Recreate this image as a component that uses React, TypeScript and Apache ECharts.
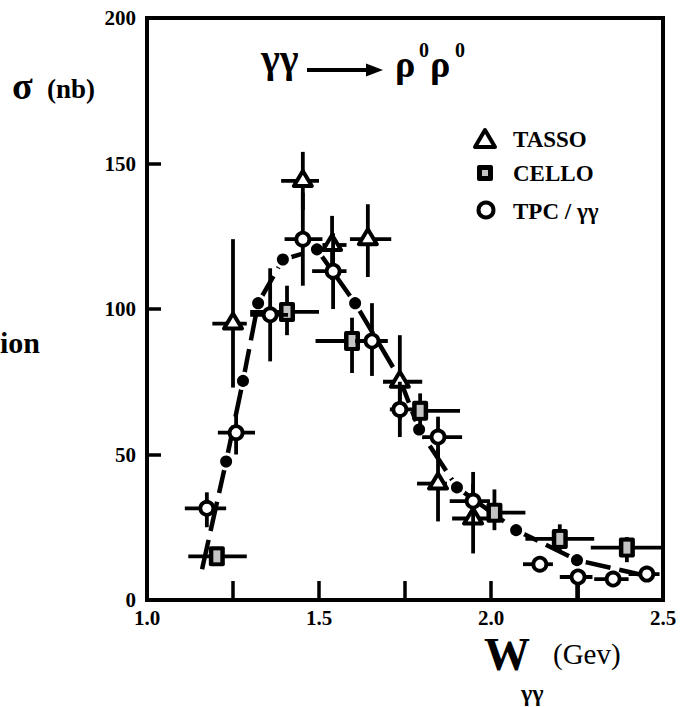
import React, { useEffect, useRef } from 'react';
import * as echarts from 'echarts';

// TASSO (open triangles)
const tassoW = [1.25, 1.453, 1.538, 1.642, 1.735, 1.846, 1.948];
const tassoSigma = [95, 144, 122, 124, 75, 40, 28];
const tassoWLo = [1.19, 1.39, 1.51, 1.59, 1.686, 1.785, 1.887];
const tassoWHi = [1.29, 1.5, 1.58, 1.71, 1.8, 1.872, 1.99];
const tassoSigmaLo = [73, 134, 110, 111, 62, 27, 16];
const tassoSigmaHi = [124, 154, 132, 136, 91, 52, 40];

// CELLO (shaded squares)
const celloW = [1.203, 1.407, 1.596, 1.794, 2.01, 2.2, 2.395];
const celloSigma = [15, 99, 89, 65, 30, 21, 18];
const celloWLo = [1.12, 1.3, 1.49, 1.773, 1.99, 2.1, 2.29];
const celloWHi = [1.29, 1.5, 1.7, 1.91, 2.1, 2.3, 2.5];
const celloSigmaLo = [13, 91, 78, 58, 24, 16.4, 13];
const celloSigmaHi = [17, 108, 97, 71, 38, 26, 21.6];

// TPC / gamma gamma (open circles)
const tpcW = [1.174, 1.259, 1.358, 1.453, 1.541, 1.654, 1.735, 1.846, 1.948, 2.142, 2.253, 2.355, 2.453];
const tpcSigma = [31.5, 57.5, 98, 124, 113, 89, 65.5, 56, 34, 12.3, 7.9, 7.2, 8.9];
const tpcWLo = [1.11, 1.206, 1.3, 1.4, 1.48, 1.605, 1.706, 1.8, 1.88, 2.093, 2.2, 2.3, 2.4];
const tpcWHi = [1.23, 1.314, 1.41, 1.51, 1.58, 1.698, 1.773, 1.916, 1.997, 2.18, 2.295, 2.4, 2.49];
const tpcSigmaLo = [25, 50, 82, 108, 100, 77, 56, 49, 26, 10, 0, 6, 8];
const tpcSigmaHi = [37, 64, 114, 140, 126, 102, 75, 63, 44, 15, 10, 8.5, 10];

// model curve (dashed) and its filled dots
const curveW = [1.16, 1.23, 1.279, 1.323, 1.395, 1.494, 1.605, 1.735, 1.791, 1.901, 2.073, 2.25, 2.44];
const curveSigma = [10.6, 47.6, 75.3, 102, 117, 120.5, 102, 76, 58.6, 38.7, 24, 13.7, 8.6];
const dotW = [1.23, 1.279, 1.323, 1.395, 1.494, 1.605, 1.791, 1.901, 2.073, 2.25];
const dotSigma = [47.6, 75.3, 102, 117, 120.5, 102, 58.6, 38.7, 24, 13.7];

const xTickLabels = ['1.0', '1.5', '2.0', '2.5'];

const SERIF = '"Liberation Serif", "DejaVu Serif", serif';

function rows(w: number[], s: number[], wl: number[], wh: number[], sl: number[], sh: number[]) {
  return w.map((v, i) => [v, s[i], wl[i], wh[i], sl[i], sh[i]]);
}

function makeRender(kind: string) {
  return (params: any, api: any) => {
    const x = api.value(0);
    const y = api.value(1);
    const c = api.coord([x, y]);
    const l = api.coord([api.value(2), y]);
    const r = api.coord([api.value(3), y]);
    const b = api.coord([x, api.value(4)]);
    const t = api.coord([x, api.value(5)]);
    const lw = 3.8;
    const children: any[] = [
      { type: 'line', shape: { x1: l[0], y1: c[1], x2: r[0], y2: c[1] }, style: { stroke: '#000', lineWidth: lw } },
      { type: 'line', shape: { x1: c[0], y1: t[1], x2: c[0], y2: b[1] }, style: { stroke: '#000', lineWidth: lw } },
    ];
    if (kind === 'triangle') {
      children.push({
        type: 'polygon',
        shape: { points: [[c[0], c[1] - 10], [c[0] - 9, c[1] + 5], [c[0] + 9, c[1] + 5]] },
        style: { fill: '#fff', stroke: '#000', lineWidth: 4, lineJoin: 'round' },
      });
    } else if (kind === 'square') {
      children.push({ type: 'rect', shape: { x: c[0] - 8, y: c[1] - 10, width: 16, height: 20, r: 2 }, style: { fill: '#000' } });
      children.push({ type: 'rect', shape: { x: c[0] - 3.5, y: c[1] - 6, width: 7, height: 12 }, style: { fill: '#c4c4c4' } });
    } else {
      children.push({ type: 'circle', shape: { cx: c[0], cy: c[1], r: 6.5 }, style: { fill: '#fff', stroke: '#000', lineWidth: 3.8 } });
    }
    return { type: 'group', children };
  };
}

export default function App() {
  const ref = useRef<HTMLDivElement>(null);
  useEffect(() => {
    if (!ref.current) return;
    const chart = echarts.init(ref.current, undefined, { renderer: 'svg' });
    const labelStyle = { color: '#000', fontFamily: SERIF, fontWeight: 'bold' as const, fontSize: 21 };
    const txt = (x: number, y: number, text: string, fontSize: number, bold: boolean) => ({
      type: 'text', x, y,
      style: { text, fill: '#000', fontSize, fontFamily: SERIF, fontWeight: bold ? 'bold' : 'normal', verticalAlign: 'middle', align: 'left' },
    });
    chart.setOption({
      animation: false,
      backgroundColor: '#fff',
      grid: { left: 147, right: 22, top: 18, bottom: 107, show: true, borderColor: '#000', borderWidth: 4, backgroundColor: 'transparent' },
      xAxis: {
        type: 'value', min: 1, max: 2.5, interval: 0.25,
        axisLine: { show: false },
        splitLine: { show: false },
        axisTick: { show: true, inside: true, length: 19, lineStyle: { color: '#000', width: 3.5 } },
        axisLabel: {
          ...labelStyle, margin: 7,
          formatter: (v: number) => {
            const s = v.toFixed(1);
            return Math.abs(v * 2 - Math.round(v * 2)) < 1e-6 && xTickLabels.includes(s) ? s : '';
          },
        },
      },
      yAxis: {
        type: 'value', min: 0, max: 200, interval: 50,
        axisLine: { show: false },
        splitLine: { show: false },
        axisTick: { show: true, inside: true, length: 14, lineStyle: { color: '#000', width: 3.5 } },
        axisLabel: { ...labelStyle, margin: 11 },
      },
      series: [
        {
          type: 'line', data: curveW.map((w, i) => [w, curveSigma[i]]), symbol: 'none', z: 2,
          lineStyle: { color: '#000', width: 4.5, type: [30, 9] },
        },
        {
          type: 'scatter', data: dotW.map((w, i) => [w, dotSigma[i]]), symbolSize: 15, z: 3,
          itemStyle: { color: '#000', borderColor: '#fff', borderWidth: 3, opacity: 1 },
        },
        { type: 'custom', name: 'CELLO', z: 4, renderItem: makeRender('square'), encode: { x: 0, y: 1 }, data: rows(celloW, celloSigma, celloWLo, celloWHi, celloSigmaLo, celloSigmaHi) },
        { type: 'custom', name: 'TASSO', z: 5, renderItem: makeRender('triangle'), encode: { x: 0, y: 1 }, data: rows(tassoW, tassoSigma, tassoWLo, tassoWHi, tassoSigmaLo, tassoSigmaHi) },
        { type: 'custom', name: 'TPC / γγ', z: 6, renderItem: makeRender('circle'), encode: { x: 0, y: 1 }, data: rows(tpcW, tpcSigma, tpcWLo, tpcWHi, tpcSigmaLo, tpcSigmaHi) },
      ],
      graphic: [
        // title
        txt(261, 58, 'γγ', 40, true),
        { type: 'line', shape: { x1: 307, y1: 70, x2: 370, y2: 70 }, style: { stroke: '#000', lineWidth: 4 } },
        { type: 'polygon', shape: { points: [[366, 63.5], [383, 70], [366, 76.5]] }, style: { fill: '#000' } },
        txt(395, 64, 'ρ', 38, true),
        txt(419, 50, '0', 20, true),
        txt(430, 64, 'ρ', 38, true),
        txt(455, 50, '0', 20, true),
        // y label
        txt(12, 86, 'σ', 38, true),
        txt(47, 89, '(nb)', 27, true),
        txt(0, 342, 'ion', 30, true),
        // x label
        txt(484, 654, 'W', 46, true),
        txt(553, 654, '(Gev)', 29, false),
        txt(521, 693, 'γγ', 24, true),
        // legend
        { type: 'polygon', shape: { points: [[485, 130], [475, 147], [495, 147]] }, style: { fill: '#fff', stroke: '#000', lineWidth: 4, lineJoin: 'round' } },
        { type: 'rect', shape: { x: 477, y: 165, width: 16, height: 16, r: 2 }, style: { fill: '#000' } },
        { type: 'rect', shape: { x: 482, y: 170, width: 6, height: 6 }, style: { fill: '#c4c4c4' } },
        { type: 'circle', shape: { cx: 486, cy: 210, r: 7.5 }, style: { fill: '#fff', stroke: '#000', lineWidth: 4 } },
        txt(513, 139, 'TASSO', 23, true),
        txt(513, 173, 'CELLO', 23, true),
        txt(513, 211, 'TPC / γγ', 23, true),
      ],
    });
    return () => chart.dispose();
  }, []);
  return <div ref={ref} style={{ position: 'fixed', left: 0, top: 0, width: 685, height: 707, background: '#fff' }} />;
}
